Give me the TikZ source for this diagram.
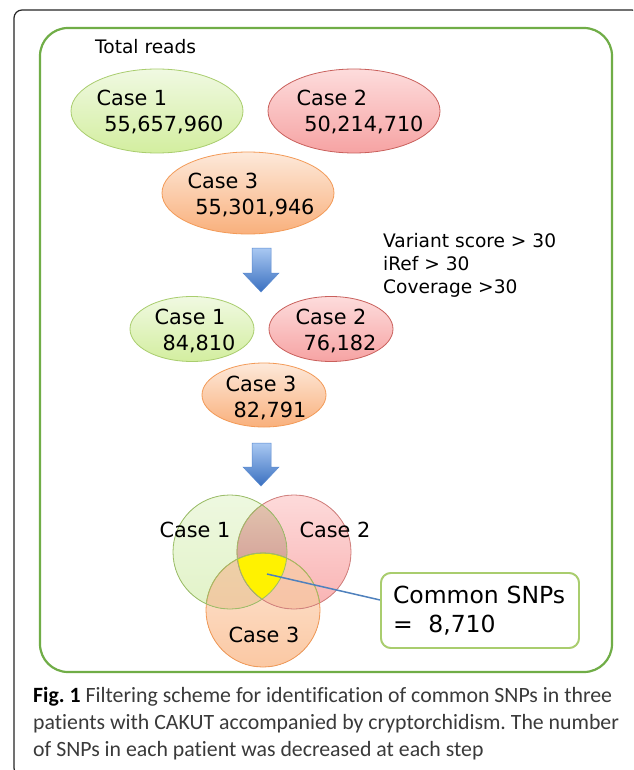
\documentclass[tikz,border=0pt]{standalone}
\usepackage{fontspec}
\setmainfont{DejaVu Sans}
\newfontfamily\capfont[Ligatures=NoCommon]{Carlito}
\usetikzlibrary{shapes.geometric,calc}
\frenchspacing
\definecolor{frameG}{HTML}{70AD47}
\definecolor{gTop}{HTML}{F0F9E2}
\definecolor{gBot}{HTML}{D3EE9F}
\definecolor{gLine}{HTML}{A9CD6E}
\definecolor{rTop}{HTML}{FDDCDC}
\definecolor{rBot}{HTML}{F6A3A3}
\definecolor{rLine}{HTML}{C9605C}
\definecolor{oTop}{HTML}{FDE9DA}
\definecolor{oBot}{HTML}{F9B07C}
\definecolor{oLine}{HTML}{F39A57}
\definecolor{aTop}{HTML}{A9C8F2}
\definecolor{aBot}{HTML}{3A70C0}
\definecolor{aLine}{HTML}{5A8AD0}
\definecolor{vGtop}{HTML}{EEF8E0}
\definecolor{vGbot}{HTML}{E2F3C8}
\definecolor{vRtop}{HTML}{FDDADA}
\definecolor{vRbot}{HTML}{F9B3B3}
\definecolor{vOtop}{HTML}{FDE6D4}
\definecolor{vObot}{HTML}{FBC8A3}
\definecolor{vGRtop}{HTML}{E3C7B0}
\definecolor{vGRbot}{HTML}{CC8C8C}
\definecolor{vGOtop}{HTML}{EDD0A8}
\definecolor{vGObot}{HTML}{F3C49E}
\definecolor{vROtop}{HTML}{F7C9AE}
\definecolor{vRObot}{HTML}{F6BE9C}
\definecolor{vLineG}{HTML}{9CBF67}
\definecolor{linkBlue}{HTML}{4F81BD}
\definecolor{capGrey}{HTML}{3A3A3A}
\begin{document}
\begin{tikzpicture}[x=1pt,y=-1pt,
  ell/.style={ellipse, draw, line width=0.8pt, inner sep=0pt},
  greenE/.style={ell, top color=gTop, bottom color=gBot, draw=gLine},
  redE/.style={ell, top color=rTop, bottom color=rBot, draw=rLine},
  orangeE/.style={ell, top color=oTop, bottom color=oBot, draw=oLine},
  big/.style={minimum width=172pt, minimum height=84pt},
  small/.style={minimum width=124pt, minimum height=65pt},
  lbl/.style={font=\fontsize{20.8}{26}\selectfont, align=left, inner sep=0pt},
  note/.style={font=\fontsize{18.6}{23}\selectfont, align=left, inner sep=0pt, anchor=west},
  blockarrow/.style={top color=aTop, bottom color=aBot, draw=aLine, line width=0.5pt},
  calloutbox/.style={draw=gLine, line width=1.8pt, fill=white, rounded corners=10pt,
      minimum width=198pt, minimum height=75pt, text width=174pt, inner xsep=12pt,
      align=left, font=\fontsize{23.5}{29}\selectfont},
  caption/.style={font=\capfont\fontsize{21.8}{27}\selectfont, text=capGrey, inner sep=0pt, anchor=west}
]
\useasboundingbox (0,0) rectangle (633,770);
\fill[white] (0,0) rectangle (633,770);
% outer frame
\begin{scope}
  \clip (0,0) rectangle (633,770);
  \draw[line width=1.2pt, black!85, rounded corners=8pt] (14,10) rectangle (640,776);
\end{scope}
% green frame
\draw[frameG, line width=2.2pt, rounded corners=28pt] (40,28) rectangle (612,672);

\node[note] (total) at (95,47) {Total reads};

% top row ellipses
\node[greenE, big] (c1) at (157,111) {};
\node[lbl] (c1t) at (160,112) {Case 1\\\hspace*{0.38em}55,657,960};
\node[redE, big] (c2) at (354,111) {};
\node[lbl] (c2t) at (360,112) {Case 2\\\hspace*{0.38em}50,214,710};
\node[orangeE, big, minimum height=82pt] (c3) at (248,193) {};
\node[lbl] (c3t) at (251,195) {Case 3\\\hspace*{0.38em}55,301,946};

% filter criteria
\node[note] (crit) at (383,265) {Variant score > 30\\iRef > 30\\Coverage >30};

% arrow 1
\path[blockarrow] (252,248) -- (271,248) -- (271,273) -- (279,273) -- (261,292) -- (243,273) -- (252,273) -- cycle;

% second row
\node[greenE, small] (d1) at (192,329) {};
\node[lbl] (d1t) at (195,331) {Case 1\\\hspace*{0.38em}84,810};
\node[redE, small] (d2) at (331,329) {};
\node[lbl] (d2t) at (336,331) {Case 2\\\hspace*{0.38em}76,182};
\node[orangeE, small, minimum height=64pt] (d3) at (264,395) {};
\node[lbl] (d3t) at (266,398) {Case 3\\\hspace*{0.38em}82,791};

% arrow 2
\path[blockarrow] (252,443) -- (271,443) -- (271,467) -- (279,467) -- (261,486) -- (243,467) -- (252,467) -- cycle;

% Venn diagram
\coordinate (vA) at (230,552);
\coordinate (vB) at (294,552);
\coordinate (vC) at (263,610);
\def\vr{57pt}
\fill[top color=vRtop, bottom color=vRbot] (vB) circle[radius=\vr];
\fill[top color=vGtop, bottom color=vGbot] (vA) circle[radius=\vr];
\fill[top color=vOtop, bottom color=vObot] (vC) circle[radius=\vr];
\begin{scope}
  \clip (vA) circle[radius=\vr];
  \fill[top color=vGRtop, bottom color=vGRbot] (vB) circle[radius=\vr];
  \fill[top color=vGOtop, bottom color=vGObot] (vC) circle[radius=\vr];
\end{scope}
\begin{scope}
  \clip (vB) circle[radius=\vr];
  \fill[top color=vROtop, bottom color=vRObot] (vC) circle[radius=\vr];
\end{scope}
\begin{scope}
  \clip (vA) circle[radius=\vr];
  \clip (vB) circle[radius=\vr];
  \fill[yellow] (vC) circle[radius=\vr];
\end{scope}
\draw[rLine!80, line width=0.8pt] (vB) circle[radius=\vr];
\draw[oLine, line width=0.8pt] (vC) circle[radius=\vr];
\draw[vLineG, line width=0.8pt] (vA) circle[radius=\vr];
\begin{scope}
  \clip (vA) circle[radius=\vr];
  \draw[vLineG, line width=0.8pt] (vB) circle[radius=\vr];
  \draw[vLineG, line width=0.8pt] (vC) circle[radius=\vr];
\end{scope}
\begin{scope}
  \clip (vB) circle[radius=\vr];
  \draw[vLineG, line width=0.8pt] (vC) circle[radius=\vr];
\end{scope}
\node[lbl] (v1) at (195,530) {Case 1};
\node[lbl] (v2) at (335,530) {Case 2};
\node[lbl] (v3) at (264,635) {Case 3};

% callout
\coordinate (yc) at (267,574);
\node[calloutbox] (box) at (480,610.5) {Common SNPs\\=\ \ 8,710};
\draw[linkBlue, line width=1.5pt] (yc) -- (box.174);
\node[calloutbox] (boxtop) at (box) {Common SNPs\\=\ \ 8,710};

% caption
\node[caption] (cap1) at (33,697) {{\bfseries\color{black}Fig. 1} Filtering scheme for identification of common SNPs in three};
\node[caption] (cap2) at (33,724) {patients with CAKUT accompanied by cryptorchidism. The number};
\node[caption] (cap3) at (33,751) {of SNPs in each patient was decreased at each step};
\end{tikzpicture}
\end{document}
